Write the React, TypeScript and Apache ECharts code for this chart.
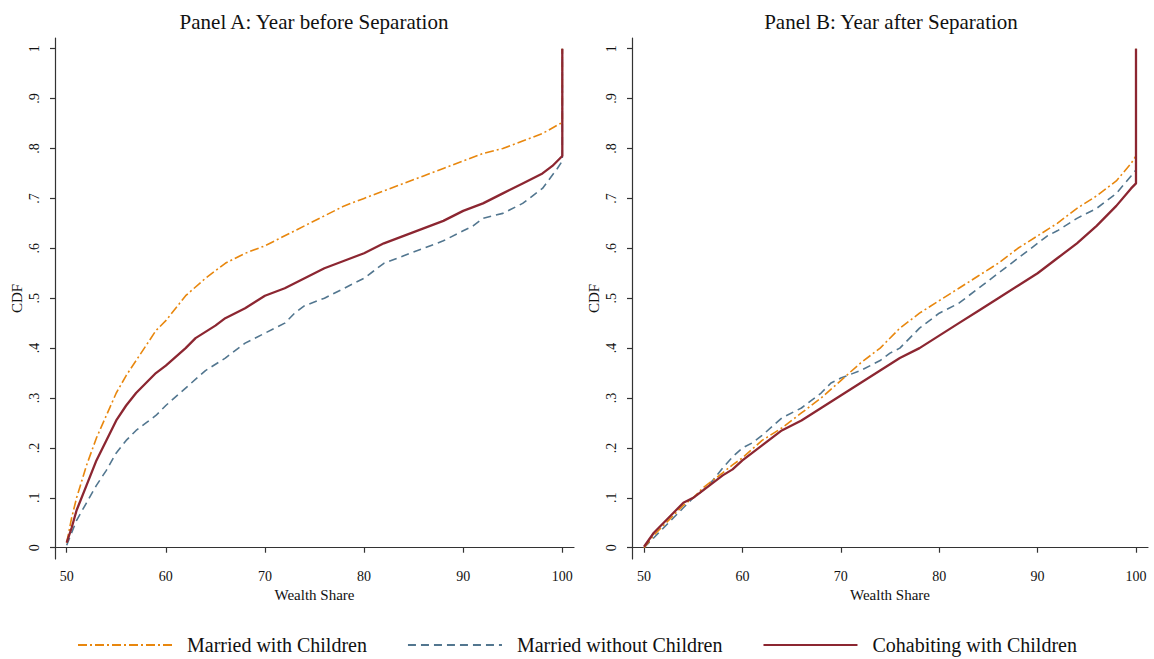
import React, { useEffect, useRef } from "react";
import * as echarts from "echarts";

const SERIES_NAMES = ["Married with Children", "Married without Children", "Cohabiting with Children"];
const PANEL_TITLES = ["Panel A: Year before Separation", "Panel B: Year after Separation"];
const X_TICKS = [50, 60, 70, 80, 90, 100];
const Y_TICKS = [0, 0.1, 0.2, 0.3, 0.4, 0.5, 0.6, 0.7, 0.8, 0.9, 1];

// Panel A: year before separation  [wealth share, CDF]
const panelAMarriedChildren: [number, number][] = [
  [50, 0.01], [50.5, 0.06], [51, 0.1], [52, 0.165], [53, 0.22], [54, 0.265], [55, 0.31], [56, 0.345],
  [57, 0.375], [58, 0.405], [59, 0.435], [60, 0.455], [62, 0.505], [64, 0.54], [66, 0.57], [68, 0.59],
  [70, 0.605], [72, 0.625], [74, 0.645], [76, 0.665], [78, 0.685], [80, 0.7], [82, 0.715], [84, 0.73],
  [86, 0.745], [88, 0.76], [90, 0.775], [92, 0.79], [94, 0.8], [96, 0.815], [98, 0.83], [99.8, 0.85],
  [100, 0.85], [100, 1.0],
];
const panelAMarriedNoChildren: [number, number][] = [
  [50, 0.005], [50.5, 0.03], [51, 0.055], [52, 0.09], [53, 0.125], [54, 0.155], [55, 0.19], [56, 0.215],
  [57, 0.235], [58, 0.25], [59, 0.265], [60, 0.285], [62, 0.32], [64, 0.355], [66, 0.38], [68, 0.41],
  [70, 0.43], [72, 0.45], [73, 0.47], [74, 0.485], [76, 0.5], [78, 0.52], [80, 0.54], [81, 0.555],
  [82, 0.57], [84, 0.585], [86, 0.6], [88, 0.615], [90, 0.635], [91, 0.645], [92, 0.66], [94, 0.67],
  [96, 0.69], [98, 0.72], [99.5, 0.76], [100, 0.775], [100, 1.0],
];
const panelACohabChildren: [number, number][] = [
  [50, 0.01], [50.5, 0.04], [51, 0.075], [52, 0.125], [53, 0.175], [54, 0.215], [55, 0.255], [56, 0.285],
  [57, 0.31], [58, 0.33], [59, 0.35], [60, 0.365], [62, 0.4], [63, 0.42], [65, 0.445], [66, 0.46],
  [68, 0.48], [70, 0.505], [72, 0.52], [74, 0.54], [76, 0.56], [78, 0.575], [80, 0.59], [82, 0.61],
  [84, 0.625], [86, 0.64], [88, 0.655], [90, 0.675], [92, 0.69], [94, 0.71], [96, 0.73], [98, 0.75],
  [99, 0.765], [100, 0.785], [100, 1.0],
];

// Panel B: year after separation
const panelBMarriedChildren: [number, number][] = [
  [50, 0.0], [51, 0.025], [52, 0.045], [53, 0.065], [54, 0.085], [55, 0.1], [56, 0.12], [57, 0.135],
  [58, 0.15], [59, 0.166], [60, 0.18], [62, 0.215], [64, 0.24], [66, 0.27], [68, 0.3], [70, 0.335],
  [72, 0.37], [74, 0.4], [76, 0.44], [78, 0.47], [80, 0.495], [82, 0.52], [84, 0.545], [86, 0.57],
  [88, 0.6], [90, 0.625], [92, 0.65], [94, 0.68], [96, 0.705], [98, 0.735], [99.5, 0.77], [100, 0.785],
  [100, 1.0],
];
const panelBMarriedNoChildren: [number, number][] = [
  [50, 0.0], [51, 0.02], [52, 0.04], [53, 0.06], [54, 0.08], [55, 0.1], [56, 0.115], [57, 0.135],
  [58, 0.16], [59, 0.182], [60, 0.2], [61, 0.21], [62, 0.225], [64, 0.26], [66, 0.28], [68, 0.31],
  [69, 0.33], [70, 0.34], [72, 0.355], [74, 0.375], [75, 0.39], [76, 0.4], [78, 0.44], [80, 0.47],
  [82, 0.49], [84, 0.52], [86, 0.55], [88, 0.58], [90, 0.61], [91, 0.625], [92, 0.635], [94, 0.66],
  [96, 0.68], [98, 0.71], [99.5, 0.745], [100, 0.757], [100, 1.0],
];
const panelBCohabChildren: [number, number][] = [
  [50, 0.002], [51, 0.03], [52, 0.05], [53, 0.07], [54, 0.09], [55, 0.1], [56, 0.115], [57, 0.13],
  [58, 0.145], [59, 0.157], [60, 0.175], [62, 0.205], [64, 0.235], [66, 0.255], [68, 0.28], [70, 0.305],
  [72, 0.33], [74, 0.355], [76, 0.38], [78, 0.4], [80, 0.425], [82, 0.45], [84, 0.475], [86, 0.5],
  [88, 0.525], [90, 0.55], [92, 0.58], [94, 0.61], [96, 0.645], [98, 0.685], [99.5, 0.72], [100, 0.73],
  [100, 1.0],
];

const COLORS = ["#e8870e", "#52768f", "#8c2631"];
const DASHES: any[] = [[9, 3, 2, 3], [8, 5], "solid"];
const WIDTHS = [1.6, 1.6, 2.3];
const FONT = "'Liberation Serif', 'Times New Roman', serif";

export default function App() {
  const ref = useRef<HTMLDivElement>(null);
  useEffect(() => {
    if (!ref.current) return;
    const chart = echarts.init(ref.current, undefined, { renderer: "svg" });
    const panels = [
      [panelAMarriedChildren, panelAMarriedNoChildren, panelACohabChildren],
      [panelBMarriedChildren, panelBMarriedNoChildren, panelBCohabChildren],
    ];
    const grids = [
      { left: 55, top: 38, width: 519, height: 521 },
      { left: 632, top: 38, width: 516, height: 521 },
    ];
    const xRanges = [
      [48.82, 101.18],
      [48.78, 101.22],
    ];
    const axisLineStyle = { color: "#333", width: 1.2 };
    const yFmt = (v: number) => (v === 0 ? "0" : v === 1 ? "1" : "." + Math.round(v * 10));
    const series: any[] = [];
    panels.forEach((p, gi) => {
      p.forEach((data, si) => {
        series.push({
          type: "line",
          name: SERIES_NAMES[si],
          xAxisIndex: gi,
          yAxisIndex: gi,
          data,
          showSymbol: false,
          symbol: "none",
          z: si === 2 ? 3 : si === 0 ? 2 : 1,
          lineStyle: { color: COLORS[si], width: WIDTHS[si], type: DASHES[si] },
          itemStyle: { color: COLORS[si] },
        });
      });
    });
    chart.setOption({
      animation: false,
      backgroundColor: "#ffffff",
      title: PANEL_TITLES.map((t, i) => ({
        text: t,
        left: i === 0 ? 309 : 886,
        textAlign: "center",
        top: 6,
        textStyle: { fontFamily: FONT, fontSize: 21, fontWeight: "normal", color: "#111" },
      })),
      legend: {
        left: 72,
        top: 630,
        itemWidth: 94,
        itemHeight: 14,
        itemGap: 40,
        data: SERIES_NAMES,
        itemStyle: { opacity: 0 },
        textStyle: { fontFamily: FONT, fontSize: 20, color: "#111", padding: [0, 0, 0, 10] },
      },
      grid: grids,
      xAxis: grids.map((_, i) => ({
        type: "value",
        gridIndex: i,
        min: xRanges[i][0],
        max: xRanges[i][1],
        name: "Wealth Share",
        nameLocation: "middle",
        nameGap: 26,
        nameTextStyle: { fontFamily: FONT, fontSize: 15, color: "#111" },
        axisLine: { show: true, lineStyle: axisLineStyle },
        axisTick: { show: true, length: 5, customValues: X_TICKS, lineStyle: axisLineStyle },
        axisLabel: { customValues: X_TICKS, fontFamily: FONT, fontSize: 14, color: "#111", margin: 10 },
        splitLine: { show: false },
      })),
      yAxis: grids.map((_, i) => ({
        type: "value",
        gridIndex: i,
        min: -0.0226,
        max: 1.0214,
        name: "CDF",
        nameLocation: "middle",
        nameGap: 31,
        nameTextStyle: { fontFamily: FONT, fontSize: 15, color: "#111" },
        axisLine: { show: true, lineStyle: axisLineStyle },
        axisTick: { show: true, length: 5, customValues: Y_TICKS, lineStyle: axisLineStyle },
        axisLabel: {
          customValues: Y_TICKS,
          formatter: yFmt,
          rotate: 90,
          fontFamily: FONT,
          fontSize: 14,
          color: "#111",
          margin: 14,
        },
        splitLine: { show: false },
      })),
      series,
    });
    return () => chart.dispose();
  }, []);
  return (
    <div
      ref={ref}
      style={{ position: "fixed", left: 0, top: 0, width: 1154, height: 659, background: "#fff" }}
    />
  );
}
